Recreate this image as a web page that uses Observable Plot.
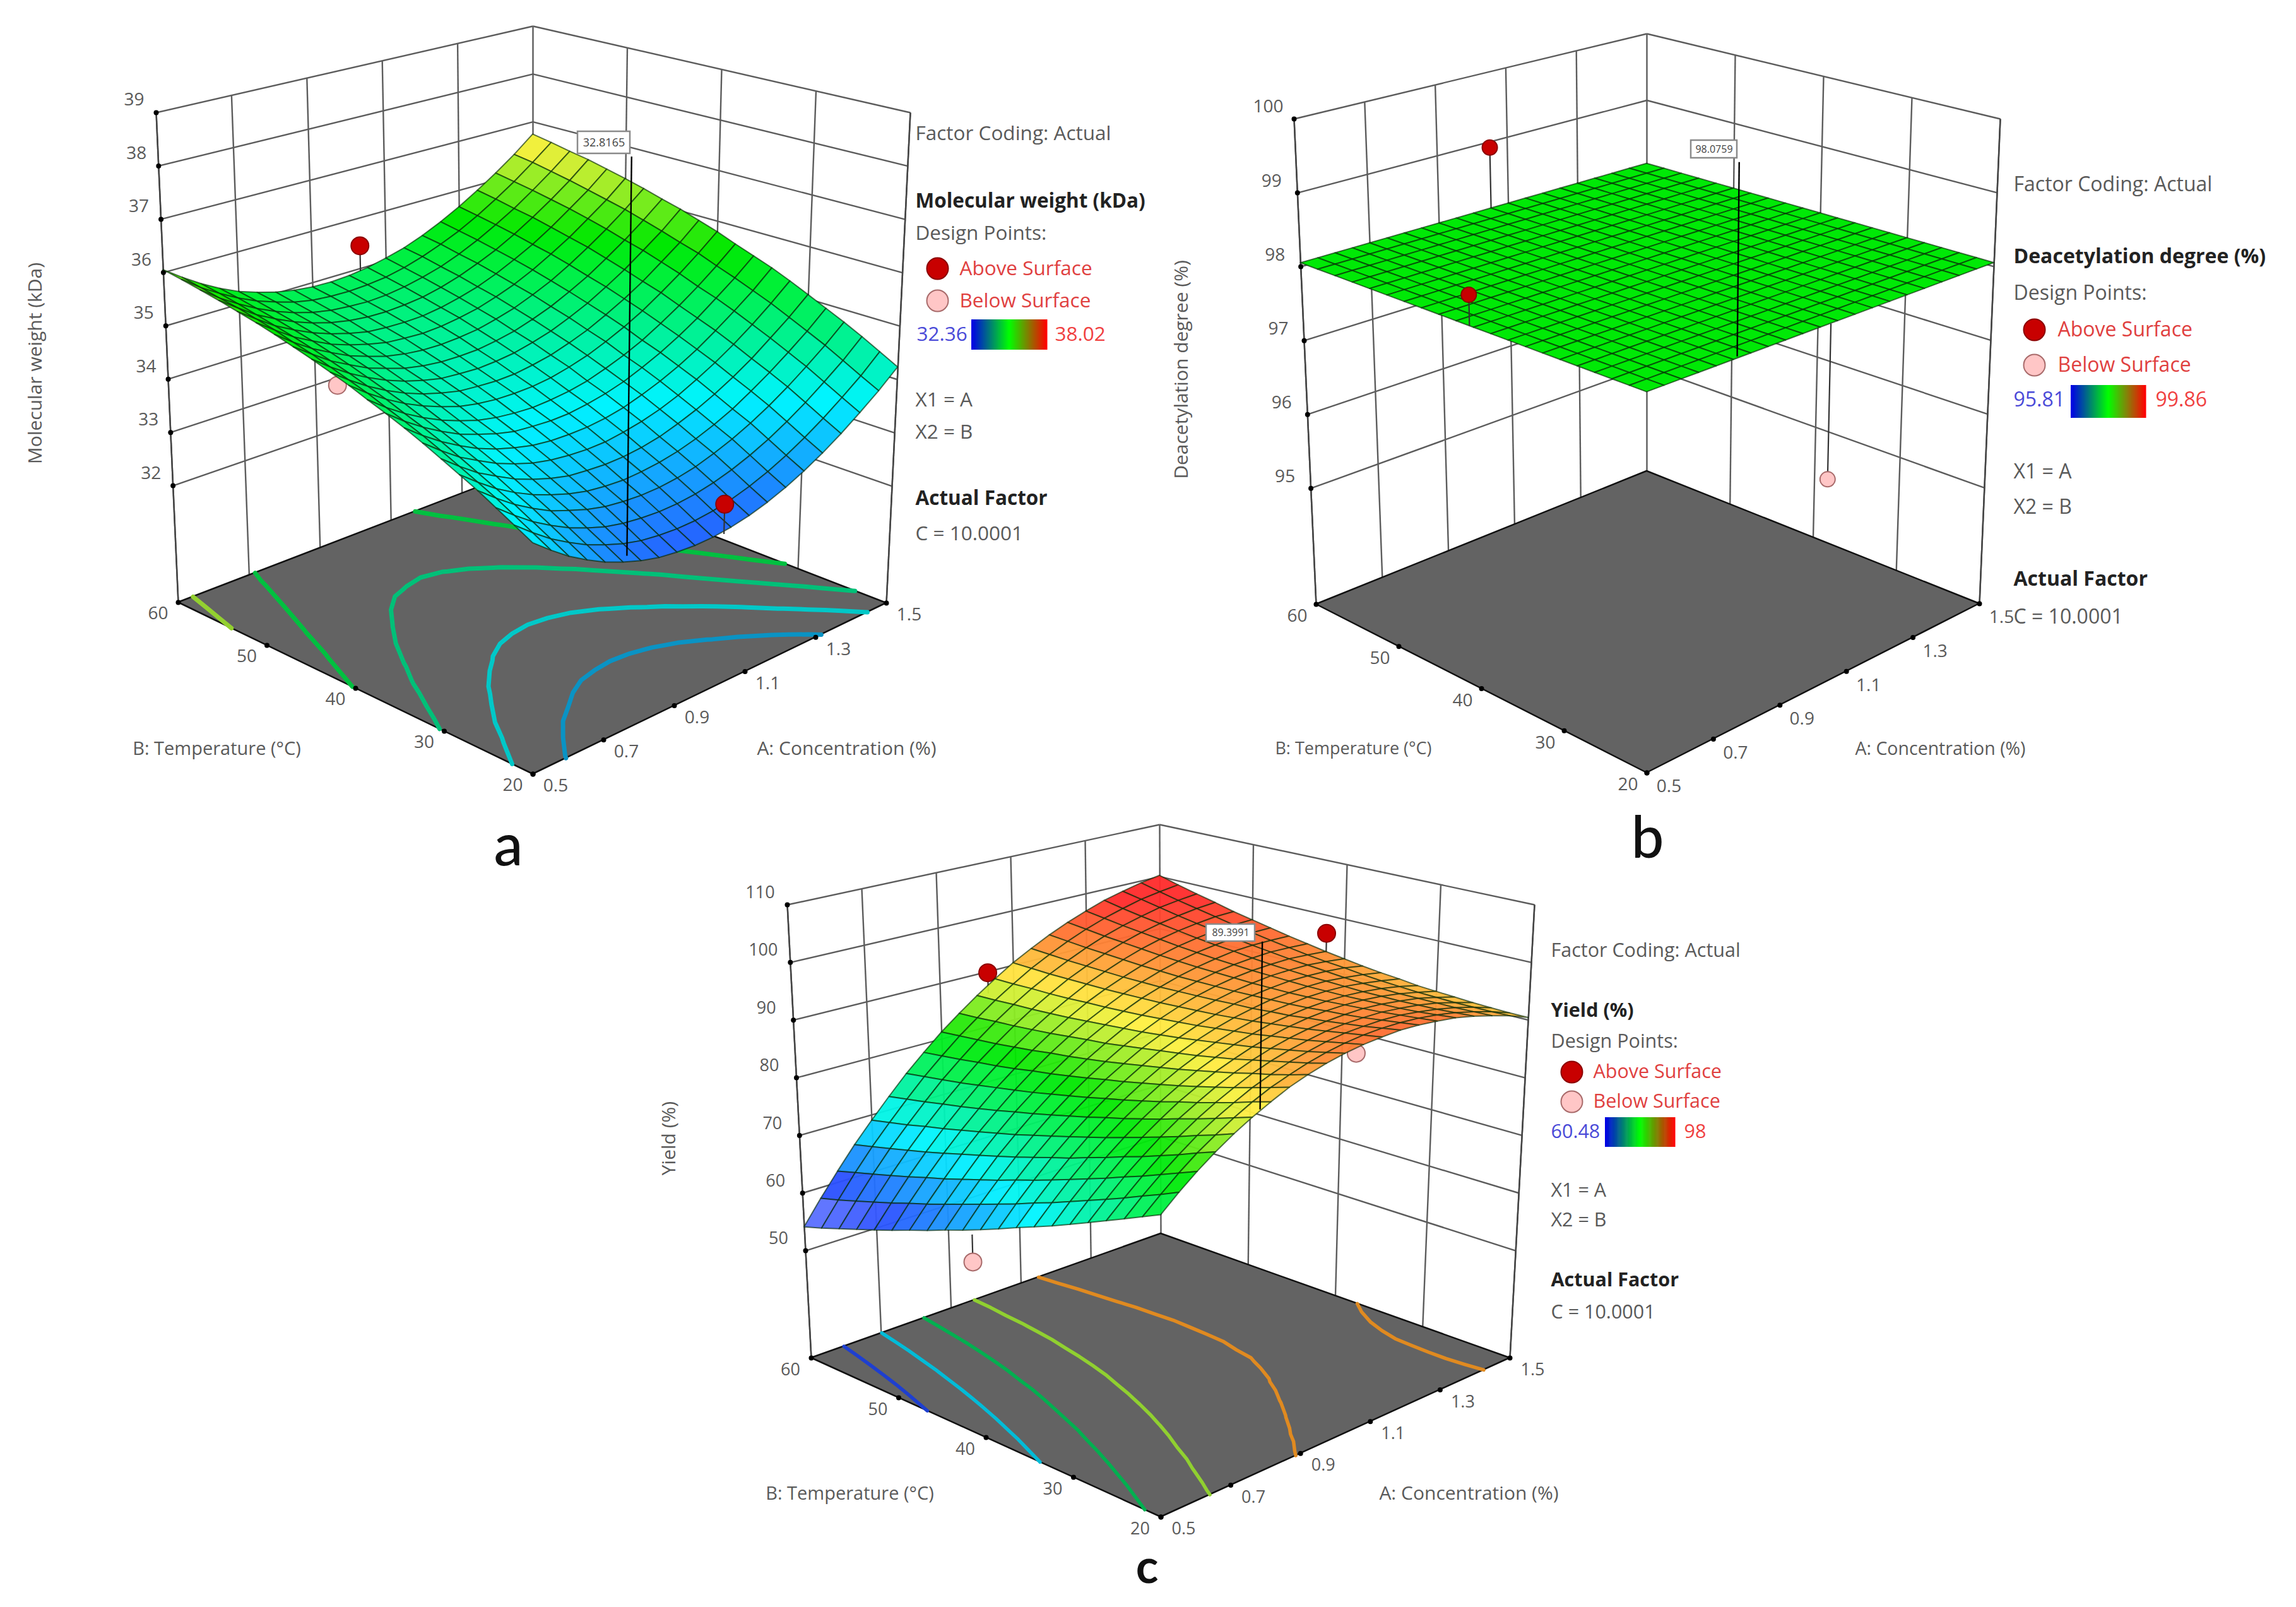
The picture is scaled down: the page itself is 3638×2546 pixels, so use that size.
<!DOCTYPE html>
<html><head><meta charset="utf-8">
<script src="https://cdn.jsdelivr.net/npm/d3@7"></script>
<script src="https://cdn.jsdelivr.net/npm/@observablehq/plot@0.6"></script>
<style>html,body{margin:0;background:#fff}svg{display:block}</style>
</head><body><div id="chart"></div>
<script>
// ---------- values ----------
const concentrationTicks = [0.5, 0.7, 0.9, 1.1, 1.3, 1.5];
const temperatureTicks = [20, 30, 40, 50, 60];
const molecularTicks = [32, 33, 34, 35, 36, 37, 38, 39];
const deacetylationTicks = [95, 96, 97, 98, 99, 100];
const yieldTicks = [50, 60, 70, 80, 90, 100, 110];

// Surface heights: rows B = 20..60 (step 2), columns A = 0.5..1.5 (step 0.05)
const molecularSurface = [
[33.70,33.45,33.22,33.03,32.86,32.73,32.62,32.54,32.50,32.48,32.49,32.53,32.60,32.70,32.83,32.99,33.18,33.40,33.65,33.92,34.23],
[33.87,33.62,33.39,33.20,33.03,32.90,32.79,32.71,32.67,32.65,32.66,32.70,32.77,32.87,33.00,33.16,33.35,33.57,33.82,34.09,34.41],
[34.04,33.79,33.56,33.37,33.20,33.07,32.96,32.89,32.85,32.83,32.84,32.88,32.95,33.05,33.18,33.34,33.53,33.75,34.00,34.27,34.59],
[34.21,33.96,33.73,33.54,33.37,33.25,33.14,33.06,33.02,33.00,33.01,33.05,33.12,33.23,33.36,33.52,33.71,33.93,34.18,34.45,34.76],
[34.36,34.11,33.88,33.69,33.53,33.40,33.29,33.21,33.17,33.15,33.17,33.21,33.28,33.38,33.51,33.67,33.87,34.09,34.34,34.61,34.92],
[34.51,34.26,34.03,33.85,33.68,33.55,33.44,33.36,33.33,33.31,33.32,33.36,33.43,33.54,33.67,33.83,34.02,34.24,34.50,34.77,35.08],
[34.66,34.41,34.18,34.00,33.83,33.70,33.59,33.52,33.48,33.46,33.47,33.52,33.59,33.69,33.82,33.99,34.18,34.40,34.65,34.93,35.24],
[34.80,34.55,34.33,34.14,33.97,33.84,33.74,33.66,33.62,33.61,33.62,33.66,33.73,33.84,33.97,34.13,34.32,34.55,34.80,35.07,35.39],
[34.93,34.68,34.46,34.27,34.10,33.98,33.87,33.79,33.76,33.74,33.75,33.80,33.87,33.97,34.11,34.27,34.46,34.68,34.94,35.21,35.52],
[35.05,34.80,34.58,34.39,34.23,34.10,33.99,33.92,33.88,33.86,33.88,33.92,33.99,34.10,34.23,34.39,34.59,34.81,35.06,35.34,35.65],
[35.18,34.93,34.71,34.52,34.36,34.23,34.12,34.05,34.01,34.00,34.01,34.05,34.13,34.23,34.37,34.53,34.72,34.95,35.20,35.48,35.79],
[35.29,35.04,34.82,34.63,34.47,34.34,34.24,34.16,34.13,34.11,34.12,34.17,34.24,34.35,34.48,34.65,34.84,35.06,35.32,35.59,35.91],
[35.40,35.15,34.93,34.74,34.58,34.45,34.35,34.27,34.24,34.22,34.24,34.28,34.36,34.46,34.60,34.76,34.96,35.18,35.44,35.71,36.03],
[35.50,35.26,35.03,34.85,34.68,34.56,34.45,34.38,34.34,34.33,34.34,34.39,34.46,34.57,34.70,34.87,35.06,35.29,35.54,35.82,36.13],
[35.60,35.35,35.13,34.95,34.78,34.66,34.55,34.48,34.44,34.43,34.45,34.49,34.57,34.67,34.81,34.97,35.17,35.40,35.65,35.93,36.24],
[35.69,35.45,35.22,35.04,34.87,34.75,34.65,34.57,34.54,34.52,34.54,34.59,34.66,34.77,34.90,35.07,35.27,35.49,35.75,36.02,36.34],
[35.77,35.53,35.30,35.12,34.96,34.83,34.73,34.65,34.62,34.61,34.62,34.67,34.75,34.85,34.99,35.16,35.35,35.58,35.84,36.11,36.43],
[35.85,35.61,35.38,35.20,35.04,34.91,34.81,34.74,34.70,34.69,34.71,34.75,34.83,34.94,35.08,35.24,35.44,35.67,35.92,36.20,36.52],
[35.92,35.67,35.46,35.27,35.11,34.98,34.88,34.81,34.78,34.76,34.78,34.83,34.91,35.01,35.15,35.32,35.52,35.74,36.00,36.28,36.59],
[35.99,35.74,35.53,35.34,35.18,35.06,34.95,34.88,34.85,34.84,34.86,34.90,34.98,35.09,35.23,35.39,35.59,35.82,36.07,36.36,36.67],
[36.05,35.81,35.59,35.40,35.24,35.12,35.02,34.95,34.91,34.90,34.92,34.97,35.05,35.15,35.29,35.46,35.66,35.89,36.14,36.42,36.74]];

const deacetylationLevel = 98.05; // the surface in panel b reads flat

const yieldSurface = [
[78.0,80.5,82.8,84.9,86.8,88.5,90.0,91.4,92.5,93.4,94.1,94.6,94.9,95.1,95.0,94.7,94.3,93.6,92.7,91.7,90.4],
[76.7,79.2,81.6,83.8,85.7,87.5,89.1,90.5,91.6,92.6,93.4,94.0,94.4,94.6,94.6,94.4,94.0,93.4,92.6,91.6,90.4],
[75.4,78.0,80.4,82.6,84.7,86.5,88.1,89.6,90.8,91.9,92.7,93.4,93.9,94.1,94.2,94.1,93.7,93.2,92.5,91.6,90.5],
[74.1,76.7,79.2,81.5,83.6,85.5,87.2,88.7,90.1,91.2,92.1,92.8,93.4,93.7,93.8,93.8,93.5,93.1,92.5,91.6,90.6],
[72.8,75.5,78.1,80.4,82.6,84.6,86.3,87.9,89.3,90.5,91.5,92.3,92.9,93.3,93.5,93.6,93.4,93.0,92.5,91.7,90.8],
[71.5,74.3,76.9,79.4,81.6,83.6,85.5,87.1,88.6,89.8,90.9,91.8,92.5,93.0,93.3,93.4,93.3,93.0,92.5,91.8,91.0],
[70.2,73.1,75.8,78.3,80.6,82.7,84.6,86.3,87.9,89.2,90.4,91.3,92.1,92.6,93.0,93.2,93.2,93.0,92.6,92.0,91.2],
[69.0,71.9,74.7,77.3,79.6,81.8,83.8,85.6,87.2,88.6,89.9,90.9,91.7,92.4,92.8,93.1,93.2,93.1,92.7,92.2,91.6],
[67.8,70.8,73.6,76.2,78.7,81.0,83.0,84.9,86.6,88.1,89.4,90.5,91.4,92.1,92.7,93.0,93.2,93.2,92.9,92.5,91.9],
[66.5,69.6,72.5,75.3,77.8,80.1,82.3,84.2,86.0,87.6,88.9,90.1,91.1,92.0,92.6,93.0,93.3,93.3,93.2,92.9,92.3],
[65.3,68.5,71.5,74.3,76.9,79.3,81.5,83.6,85.4,87.1,88.5,89.8,90.9,91.8,92.5,93.0,93.4,93.5,93.5,93.2,92.8],
[64.1,67.4,70.4,73.3,76.0,78.5,80.8,82.9,84.8,86.6,88.1,89.5,90.7,91.7,92.5,93.1,93.5,93.7,93.8,93.6,93.3],
[63.0,66.3,69.4,72.4,75.1,77.7,80.1,82.3,84.3,86.1,87.8,89.2,90.5,91.6,92.5,93.2,93.7,94.0,94.2,94.1,93.9],
[61.8,65.2,68.4,71.5,74.3,77.0,79.4,81.7,83.8,85.8,87.5,89.0,90.4,91.5,92.5,93.3,93.9,94.4,94.6,94.6,94.5],
[60.7,64.1,67.4,70.6,73.5,76.2,78.8,81.2,83.4,85.4,87.2,88.8,90.3,91.5,92.6,93.5,94.2,94.7,95.1,95.2,95.2],
[59.5,63.1,66.5,69.7,72.7,75.5,78.2,80.6,82.9,85.0,86.9,88.7,90.2,91.5,92.7,93.7,94.5,95.1,95.6,95.8,95.9],
[58.4,62.0,65.5,68.8,71.9,74.8,77.6,80.1,82.5,84.7,86.7,88.5,90.2,91.6,92.9,94.0,94.9,95.6,96.1,96.5,96.6],
[57.3,61.0,64.6,68.0,71.2,74.2,77.0,79.7,82.1,84.4,86.5,88.4,90.2,91.7,93.1,94.3,95.3,96.1,96.7,97.2,97.5],
[56.2,60.0,63.7,67.2,70.4,73.5,76.5,79.2,81.8,84.2,86.4,88.4,90.2,91.8,93.3,94.6,95.7,96.6,97.4,97.9,98.3],
[55.1,59.0,62.8,66.4,69.7,72.9,76.0,78.8,81.5,83.9,86.2,88.3,90.3,92.0,93.6,95.0,96.2,97.2,98.1,98.7,99.2],
[54.1,58.1,61.9,65.6,69.0,72.3,75.5,78.4,81.2,83.7,86.1,88.3,90.4,92.2,93.9,95.4,96.7,97.9,98.8,99.6,100.2]];

const molecularContours = [33.25, 33.9, 34.55, 35.2, 35.85];
const molecularContourColors = ["#0a93c4", "#00c8c8", "#00c078", "#00c040", "#93d030"];
const yieldContours = [61.4, 69.1, 76.8, 84.5, 92.2];
const yieldContourColors = ["#1e3fd0", "#00bcd8", "#00b050", "#90d030", "#e08a20"];

// design points: A, B, measured value, surface value at that spot, in front of the surface?
const molecularPoints = [
  {A: 1.03, B: 60, z: 35.45, s: 34.9, type: "above", front: false},
  {A: 0.96, B: 60, z: 32.85, s: 34.9, type: "below", front: false},
  {A: 1.03, B: 20, z: 33.0, s: 32.47, type: "above", front: true}];
const deacetylationPoints = [
  {A: 1.05, B: 60, z: 98.92, s: 98.05, type: "above", front: false},
  {A: 0.5, B: 40.5, z: 98.45, s: 98.05, type: "above", front: true},
  {A: 1.03, B: 20, z: 96.05, s: 98.05, type: "below", front: false}];
const yieldPoints = [
  {A: 1.03, B: 60, z: 89.8, s: 86.0, type: "above", front: false},
  {A: 1.5, B: 42, z: 96.7, s: 92.8, type: "above", front: false},
  {A: 0.5, B: 41, z: 59.5, s: 64.0, type: "below", front: false},
  {A: 1.03, B: 20, z: 93.6, s: 94.3, type: "below", front: false}];

const molecularFlag = {A: 0.76, B: 20, z: 32.8165, label: "32.8165", top: 39.72};
const deacetylationFlag = {A: 0.76, B: 20, z: 98.0759, label: "98.0759", top: 100.5};
const yieldFlag = {A: 0.77, B: 20, z: 89.3991, label: "89.3991", top: 116.1};

const molecularRange = [32.36, 38.02];
const deacetylationRange = [95.81, 99.86];
const yieldRange = [60.48, 98];
const molecularRangeLabels = ["32.36", "38.02"];
const deacetylationRangeLabels = ["95.81", "99.86"];
const yieldRangeLabels = ["60.48", "98"];

const legendLines = {
  factor: "Factor Coding: Actual", design: "Design Points:", above: "Above Surface", below: "Below Surface",
  x1: "X1 = A", x2: "X2 = B", actual: "Actual Factor", c: "C = 10.0001"};
const axisB = "B: Temperature (°C)";
const axisA = "A: Concentration (%)";

// ---------- layout of each panel (projection frame and text placement) ----------
const frames = {
  a: {floorZ: 29.81, topZ: 39,
      floor: {F:[844,1226], R:[1404,955], B:[844,738], L:[282,954]},
      top:   {F:[844,361],  R:[1442,178], B:[844,41],  L:[247,178]},
      zLab:[-35,-20], bLab:[-32,18], aLab:[36,19], tickFont:28,
      box:[915,998,208,243], boxFont:18, dotR:14, contourW:7,
      legendX:1450, font:31.5, lines:{factor:211,title:318,design:369,above:425,below:476,range:529,x1:633,x2:684,actual:789,c:845},
      dotX:1485, textX:1520, bar:[1539,1659,506,554], lowX:1452, highX:1671,
      titleA:[1341,1186], titleB:[343,1186], titleAFont:30, titleBFont:29, titleZ:[56,575], zFont:30},
  b: {floorZ: 93.43, topZ: 100,
      floor: {F:[2609,1224], R:[3136,956], B:[2609,746], L:[2085,957]},
      top:   {F:[2609,366],  R:[3169,188], B:[2609,53],  L:[2050,188]},
      zLab:[-41,-19], bLab:[-30,19], aLab:[35,22], tickFont:28,
      box:[2679,2752,222,250], boxFont:16, dotR:12, contourW:5,
      legendX:3190, font:32, lines:{factor:292,title:406,design:464,above:522,below:578,range:633,x1:747,x2:803,actual:917,c:977},
      dotX:3223, textX:3260, bar:[3281,3400,610,662], lowX:3190, highX:3415,
      titleA:[3074,1186], titleB:[2144,1186], titleAFont:28.5, titleBFont:27, titleZ:[1872,585], zFont:30},
  c: {floorZ: 31.4, topZ: 110,
      floor: {F:[1839,2403], R:[2392,2151], B:[1839,1954], L:[1285,2151]},
      top:   {F:[1839,1596], R:[2431,1433], B:[1837,1306], L:[1247,1433]},
      zLab:[-43,-19], bLab:[-33,19], aLab:[36,19], tickFont:27,
      box:[1911,1988,1464,1491], boxFont:16, dotR:14, contourW:5.5,
      legendX:2457, font:30.5, lines:{factor:1506,title:1601,design:1650,above:1698,below:1745,range:1793,x1:1886,x2:1933,actual:2028,c:2079},
      dotX:2490, textX:2524, bar:[2543,2654,1770,1817], lowX:2457, highX:2668,
      titleA:[2327,2366], titleB:[1346,2366], titleAFont:30, titleBFont:29, titleZ:[1060,1803], zFont:30}
};
const panelLetters = [{t:"a",x:805,y:1341,s:92},{t:"b",x:2610,y:1329,s:92},{t:"c",x:1817,y:2484,s:74}];

const panels = [
  {frame: frames.a, grid: molecularSurface, zTicks: molecularTicks, range: molecularRange, rangeLabels: molecularRangeLabels,
   points: molecularPoints, flag: molecularFlag, levels: molecularContours, levelColors: molecularContourColors,
   title: "Molecular weight (kDa)", zTitle: "Molecular weight (kDa)", opacity: 1},
  {frame: frames.b, grid: d3.range(21).map(() => d3.range(21).map(() => deacetylationLevel)), zTicks: deacetylationTicks, range: deacetylationRange, rangeLabels: deacetylationRangeLabels,
   points: deacetylationPoints, flag: deacetylationFlag, levels: [], levelColors: [],
   title: "Deacetylation degree (%)", zTitle: "Deacetylation degree (%)", opacity: 1},
  {frame: frames.c, grid: yieldSurface, zTicks: yieldTicks, range: yieldRange, rangeLabels: yieldRangeLabels,
   points: yieldPoints, flag: yieldFlag, levels: yieldContours, levelColors: yieldContourColors,
   title: "Yield (%)", zTitle: "Yield (%)", opacity: 0.95}
];

// ---------- 3D frame -> picture coordinates ----------
function quadMap({F, R, B, L}) {
  return (u, v) => [0, 1].map(k =>
    (1-u)*(1-v)*F[k] + u*(1-v)*R[k] + u*v*B[k] + (1-u)*v*L[k]);
}
function projector(fr) {
  const low = quadMap(fr.floor), high = quadMap(fr.top);
  return (A, B, z) => {
    const u = (A-0.5)/1, v = (B-20)/40, t = (z-fr.floorZ)/(fr.topZ-fr.floorZ);
    const p = low(u, v), q = high(u, v);
    return [p[0]+(q[0]-p[0])*t, p[1]+(q[1]-p[1])*t];
  };
}
const gridA = i => 0.5+i*0.05, gridB = j => 20+j*2;

const ink = "#5a5a5a", wall = "#5c5c5c";
const legendRamp = d3.scaleLinear().domain([0,0.5,1]).range(["#0000e6","#00ff00","#ff0000"]);
const marks = [];

panels.forEach((pn, pIndex) => {
  const fr = pn.frame, P = projector(fr), zf = fr.floorZ, zt = fr.topZ;
  const link = (a, b) => { const p = P(...a), q = P(...b); return {x1:p[0], y1:p[1], x2:q[0], y2:q[1]}; };

  // back walls
  const wallLines = [];
  pn.zTicks.forEach(z => {
    wallLines.push(link([0.5,60,z],[1.5,60,z]));
    wallLines.push(link([1.5,60,z],[1.5,20,z]));
  });
  concentrationTicks.forEach(A => wallLines.push(link([A,60,zf],[A,60,zt])));
  temperatureTicks.slice(0,-1).forEach(B => wallLines.push(link([1.5,B,zf],[1.5,B,zt])));
  marks.push(Plot.link(wallLines, {x1:"x1",y1:"y1",x2:"x2",y2:"y2",stroke:wall,strokeWidth:2.4}));

  // floor
  const c = (A,B) => P(A,B,zf);
  marks.push(Plot.area([
    {id:0,x1:c(0.5,20)[0],y1:c(0.5,20)[1],x2:c(0.5,60)[0],y2:c(0.5,60)[1]},
    {id:0,x1:c(1.5,20)[0],y1:c(1.5,20)[1],x2:c(1.5,60)[0],y2:c(1.5,60)[1]}],
    {x1:"x1",y1:"y1",x2:"x2",y2:"y2",z:"id",fill:"#636363",stroke:"#111",strokeWidth:2.5}));

  if (pn.levels.length) {
    const flat = pn.grid.flat();
    const sets = d3.contours().size([21,21]).thresholds(pn.levels)(flat);
    const rows = []; let seg = 0;
    sets.forEach((mp, li) => {
      mp.coordinates.forEach(poly => poly.forEach(ring => {
        const inside = q => q[0]>=0.49 && q[0]<=20.51 && q[1]>=0.49 && q[1]<=20.51;
        const n = ring.length-1;
        let s0 = ring.slice(0,n).findIndex(q => !inside(q));
        if (s0 < 0) s0 = 0;
        seg++;
        for (let k = 0; k <= n; k++) {
          const q = ring[(s0+k)%n];
          if (!inside(q)) { seg++; continue; }
          const p = c(gridA(q[0]-0.5), gridB(q[1]-0.5));
          rows.push({x:p[0], y:p[1], seg, color:pn.levelColors[li]});
        }
      }));
    });
    marks.push(Plot.line(rows, {x:"x",y:"y",z:"seg",stroke:{value:"color",scale:null},strokeWidth:fr.contourW,strokeLinejoin:"round"}));
  }

  // outer verticals and tick dots
  const outer = [link([0.5,60,zf],[0.5,60,zt]), link([1.5,20,zf],[1.5,20,zt])];
  marks.push(Plot.link(outer, {x1:"x1",y1:"y1",x2:"x2",y2:"y2",stroke:"#444",strokeWidth:2.4}));
  const dots = [], labels = [];
  const addTick = (pt, txt, off) => { dots.push({x:pt[0],y:pt[1]}); labels.push({x:pt[0]+off[0],y:pt[1]+off[1],t:txt}); };
  pn.zTicks.forEach(z => addTick(P(0.5,60,z), String(z), fr.zLab));
  temperatureTicks.forEach(B => addTick(c(0.5,B), String(B), fr.bLab));
  concentrationTicks.forEach(A => addTick(c(A,20), String(A), fr.aLab));
  marks.push(Plot.dot(dots, {x:"x",y:"y",r:4,fill:"#000"}));
  marks.push(Plot.text(labels, {x:"x",y:"y",text:"t",fontSize:fr.tickFont,fill:ink,fontFamily:"Open Sans"}));

  // stems and points
  const stems = ps => ps.map(d => link([d.A,d.B,d.z],[d.A,d.B,d.s]));
  const pointMarks = ps => {
    const xy = ps.map(d => { const p = P(d.A,d.B,d.z); return {x:p[0],y:p[1],type:d.type}; });
    return [
      Plot.link(stems(ps), {x1:"x1",y1:"y1",x2:"x2",y2:"y2",stroke:"#333",strokeWidth:2.2}),
      Plot.dot(xy, {x:"x",y:"y",r:fr.dotR,
        fill:{value:d => d.type==="above" ? "#c80000" : "#ffc6c6",scale:null},
        stroke:{value:d => d.type==="above" ? "#8c0000" : "#a86a6a",scale:null},strokeWidth:2})];
  };
  marks.push(...pointMarks(pn.points.filter(d => !d.front)));

  // surface mesh, painted far to near
  const cells = [];
  for (let j = 0; j < 20; j++) for (let i = 0; i < 20; i++) cells.push([i,j]);
  cells.sort((m,n) => (n[0]+n[1])-(m[0]+m[1]));
  const rows = [];
  const [lo, hi] = pn.range;
  cells.forEach(([i,j], id) => {
    const z = (a,b) => pn.grid[b][a];
    const t = ((z(i,j)+z(i+1,j)+z(i,j+1)+z(i+1,j+1))/4-lo)/(hi-lo);
    const p00 = P(gridA(i),gridB(j),z(i,j)), p01 = P(gridA(i),gridB(j+1),z(i,j+1));
    const p10 = P(gridA(i+1),gridB(j),z(i+1,j)), p11 = P(gridA(i+1),gridB(j+1),z(i+1,j+1));
    rows.push({id,t,x1:p00[0],y1:p00[1],x2:p01[0],y2:p01[1]});
    rows.push({id,t,x1:p10[0],y1:p10[1],x2:p11[0],y2:p11[1]});
  });
  marks.push(Plot.area(rows, {x1:"x1",y1:"y1",x2:"x2",y2:"y2",z:"id",fill:"t",fillOpacity:pn.opacity,
    stroke:"#062a06",strokeOpacity:0.65,strokeWidth:2}));

  // flag
  const fl = pn.flag, box = fr.box;
  marks.push(Plot.link([link([fl.A,fl.B,fl.z],[fl.A,fl.B,fl.top])], {x1:"x1",y1:"y1",x2:"x2",y2:"y2",stroke:"#000",strokeWidth:2.4}));
  marks.push(Plot.rect([{x1:box[0],x2:box[1],y1:box[2],y2:box[3]}], {x1:"x1",x2:"x2",y1:"y1",y2:"y2",fill:"#fff",stroke:"#8a8a8a",strokeWidth:2.5,inset:0}));
  marks.push(Plot.text([{x:(box[0]+box[1])/2,y:(box[2]+box[3])/2,t:fl.label}], {x:"x",y:"y",text:"t",fontSize:fr.boxFont,fill:"#444",fontFamily:"Open Sans"}));
  marks.push(...pointMarks(pn.points.filter(d => d.front)));

  // legend
  const L = fr.lines, X = fr.legendX, txt = [
    {x:X,y:L.factor,t:legendLines.factor,c:ink,w:400},
    {x:X,y:L.title,t:pn.title,c:"#222",w:700},
    {x:X,y:L.design,t:legendLines.design,c:ink,w:400},
    {x:fr.textX,y:L.above,t:legendLines.above,c:"#e0403f",w:400},
    {x:fr.textX,y:L.below,t:legendLines.below,c:"#e0403f",w:400},
    {x:fr.lowX,y:L.range,t:pn.rangeLabels[0],c:"#4a4ad8",w:400},
    {x:fr.highX,y:L.range,t:pn.rangeLabels[1],c:"#f04040",w:400},
    {x:X,y:L.x1,t:legendLines.x1,c:ink,w:400},
    {x:X,y:L.x2,t:legendLines.x2,c:ink,w:400},
    {x:X,y:L.actual,t:legendLines.actual,c:"#222",w:700},
    {x:X,y:L.c,t:legendLines.c,c:ink,w:400}];
  marks.push(Plot.text(txt.filter(d => d.w===400), {x:"x",y:"y",text:"t",textAnchor:"start",fontSize:fr.font,fill:{value:"c",scale:null},fontFamily:"Open Sans"}));
  marks.push(Plot.text(txt.filter(d => d.w===700), {x:"x",y:"y",text:"t",textAnchor:"start",fontSize:fr.font,fontWeight:700,fill:{value:"c",scale:null},fontFamily:"Open Sans"}));
  marks.push(Plot.dot([{x:fr.dotX,y:L.above}], {x:"x",y:"y",r:17,fill:"#c80000",stroke:"#8c0000",strokeWidth:2}));
  marks.push(Plot.dot([{x:fr.dotX,y:L.below}], {x:"x",y:"y",r:17,fill:"#ffc6c6",stroke:"#a86a6a",strokeWidth:2}));
  const bar = fr.bar, steps = d3.range(60);
  marks.push(Plot.rect(steps.map(s => ({
      x1:bar[0]+(bar[1]-bar[0])*s/60, x2:bar[0]+(bar[1]-bar[0])*(s+1)/60+0.5, y1:bar[2], y2:bar[3], c:legendRamp(s/59)})),
    {x1:"x1",x2:"x2",y1:"y1",y2:"y2",fill:{value:"c",scale:null},inset:0}));

  // axis titles
  marks.push(Plot.text([{x:fr.titleA[0],y:fr.titleA[1],t:axisA}], {x:"x",y:"y",text:"t",fontSize:fr.titleAFont,fill:ink,fontFamily:"Open Sans"}));
  marks.push(Plot.text([{x:fr.titleB[0],y:fr.titleB[1],t:axisB}], {x:"x",y:"y",text:"t",fontSize:fr.titleBFont,fill:ink,fontFamily:"Open Sans"}));
  marks.push(Plot.text([{x:fr.titleZ[0],y:fr.titleZ[1],t:pn.zTitle}],
    {x:"x",y:"y",text:"t",rotate:-90,fontSize:fr.zFont,fill:ink,fontFamily:"Open Sans"}));
});

panelLetters.forEach(l => marks.push(Plot.text([l], {x:"x",y:"y",text:"t",fontSize:l.s,fill:"#111",fontFamily:"Lato",fontWeight:l.t==="c"?700:500})));

const plot = Plot.plot({
  width: 3638, height: 2546, margin: 0,
  style: {background: "#fff"},
  x: {domain: [0, 3638], range: [0, 3638], axis: null},
  y: {domain: [0, 2546], range: [0, 2546], axis: null},
  color: {type: "linear", domain: [-0.25, 0, 0.25, 0.5, 0.56, 0.75, 1, 1.15],
          range: ["#9a9aff", "#2a50ff", "#00f4ff", "#00f030", "#00e800", "#fff040", "#ff2a2a", "#ff2a2a"], interpolate: "rgb", clamp: true},
  marks
});
document.getElementById("chart").appendChild(plot);
</script></body></html>
